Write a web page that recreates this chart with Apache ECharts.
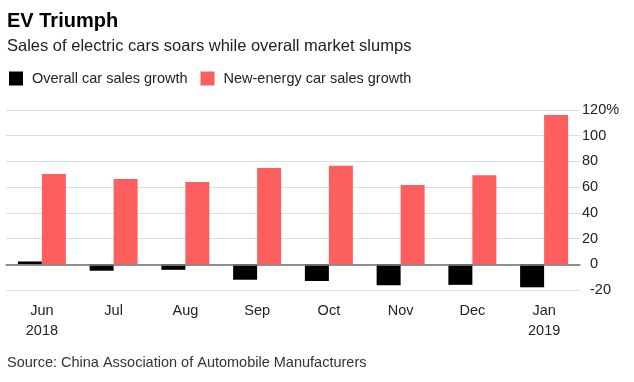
<!DOCTYPE html>
<html>
<head>
<meta charset="utf-8">
<script src="https://cdn.jsdelivr.net/npm/echarts@6/dist/echarts.min.js"></script>
<style>
html,body{margin:0;padding:0;background:#fff;}
#c{width:634px;height:382px;}
</style>
</head>
<body>
<div id="c"></div>
<script>
var months = ['Jun','Jul','Aug','Sep','Oct','Nov','Dec','Jan'];
var years = ['2018','','','','','','','2019'];
var overallGrowth = [2.2, -5, -4.3, -12, -13, -16.3, -16, -17.9];
var nevGrowth = [70.2, 66.3, 64, 74.9, 76.7, 61.7, 69.3, 116.2];
var yTicks = {min: -20, max: 120, interval: 20};

var FONT = '"Liberation Sans", Arial, sans-serif';
var chart = echarts.init(document.getElementById('c'), null, {renderer: 'canvas'});
var cats = months.map(function (m, i) { return years[i] ? m + '\n' + years[i] : m; });

chart.setOption({
  animation: false,
  backgroundColor: '#fff',
  textStyle: {fontFamily: FONT},
  graphic: [
    {type: 'text', left: 7, top: 11, style: {text: 'EV Triumph', font: 'bold 20px ' + FONT, fill: '#000'}},
    {type: 'text', left: 7, top: 38, style: {text: 'Sales of electric cars soars while overall market slumps', font: '16.5px ' + FONT, fill: '#222'}},
    {type: 'text', left: 7, top: 355, style: {text: 'Source: China Association of Automobile Manufacturers', font: '14.5px ' + FONT, fill: '#333'}}
  ],
  legend: {
    left: 9, top: 71, padding: 0, icon: 'rect', itemWidth: 14, itemHeight: 14, itemGap: 13,
    textStyle: {fontSize: 14.5, color: '#222', fontFamily: FONT, padding: [0, 0, 0, 4], lineHeight: 14},
    data: ['Overall car sales growth', 'New-energy car sales growth']
  },
  grid: {left: 6, right: 54, top: 110, bottom: 92, containLabel: false},
  xAxis: {
    type: 'category', data: cats, boundaryGap: true,
    axisLine: {lineStyle: {color: '#888', width: 1.5}},
    axisTick: {alignWithLabel: true, length: 5, lineStyle: {color: '#888', width: 1.5}},
    axisLabel: {margin: 11, color: '#222', fontSize: 14.5, lineHeight: 20, fontFamily: FONT}
  },
  yAxis: {
    type: 'value', position: 'right', min: yTicks.min, max: yTicks.max, interval: yTicks.interval,
    axisLine: {show: false}, axisTick: {show: false},
    splitLine: {lineStyle: {color: '#ddd', width: 1}},
    axisLabel: {
      margin: 2, color: '#222', fontSize: 14.5, fontFamily: FONT,
      formatter: function (v) {
        if (v === yTicks.max) return v + '%';
        if (v <= 0) return '{p|' + v + '}';
        return '' + v;
      },
      rich: {p: {padding: [0, 0, 0, 8], fontSize: 14.5, color: '#222', fontFamily: FONT}}
    }
  },
  series: [
    {
      name: 'Overall car sales growth', type: 'bar', data: overallGrowth,
      barWidth: 24, barGap: '0%', itemStyle: {color: '#000'},
      markLine: {
        silent: true, symbol: ['none', 'none'], label: {show: false},
        lineStyle: {color: '#888', type: 'solid', width: 1.5},
        data: [{yAxis: 0}]
      }
    },
    {
      name: 'New-energy car sales growth', type: 'bar', data: nevGrowth,
      barWidth: 24, barGap: '0%', itemStyle: {color: '#fd5e5e'}
    }
  ]
});
</script>
</body>
</html>
